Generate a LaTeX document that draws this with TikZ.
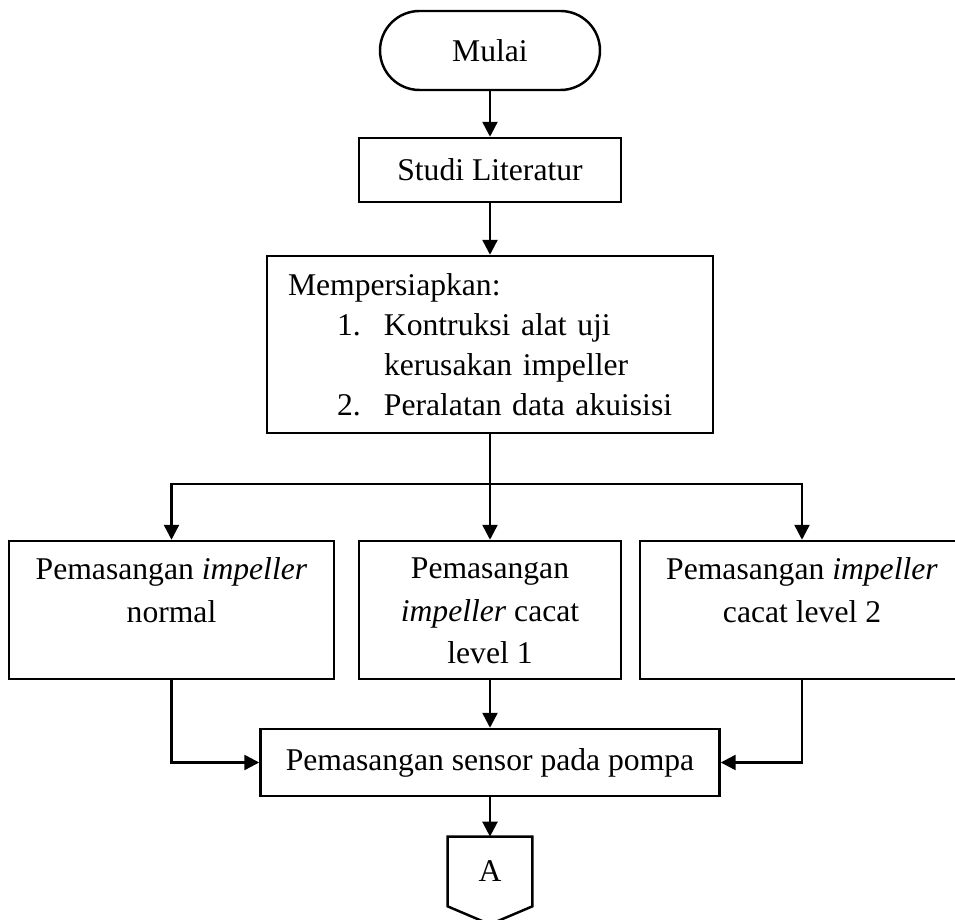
\documentclass[tikz,border=0pt]{standalone}
\usepackage{fontspec}
\setmainfont{Liberation Serif}
\usetikzlibrary{arrows.meta}
\tikzset{garis/.style={line width=1.4pt}}
\tikzset{panah/.style={garis,-{Triangle[length=0.3cm,width=0.3cm]}}}
\tikzset{terminal/.style={draw,garis,rectangle,rounded corners=0.79cm,minimum width=4.4cm,minimum height=1.58cm}}
\tikzset{proses/.style={draw,garis,rectangle}}
\tikzset{cabang/.style={proses,inner xsep=0pt,inner ysep=0.33cm,minimum height=2.76cm}}
\newcommand{\butir}[1]{\hspace*{0.98cm}\makebox[0.94cm][l]{#1}}
\newcommand{\atas}[2]{\parbox[c][2.1cm][t]{#1}{\centering #2}}

\begin{document}
\begin{tikzpicture}[node distance=2.39cm,font=\fontsize{18}{24.4}\selectfont]
\clip (0,0) rectangle (19.1,-18.4);
\node[terminal](mulai) at (9.8,-1.01){Mulai};
\node[proses,minimum width=5.24cm,minimum height=1.28cm](studi)[below of=mulai]{Studi Literatur};
\node[proses,text width=8.08cm,inner xsep=0.42cm,minimum height=3.54cm,align=left,font=\fontsize{18}{22.7}\selectfont,node distance=3.49cm](siap)[below of=studi]{Mempersiapkan:\\ \butir{1.}Kontruksi alat uji\\ \hspace*{1.92cm}kerusakan impeller\\ \butir{2.}Peralatan data akuisisi};
\node[cabang,node distance=5.31cm](tengah)[below of=siap]{\atas{5.24cm}{Pemasangan\\ \textit{impeller} cacat\\ level 1}};
\node[cabang,node distance=6.37cm](kiri)[left of=tengah]{\atas{6.5cm}{Pemasangan \textit{impeller}\\ normal}};
\node[cabang,node distance=6.24cm](kanan)[right of=tengah]{\atas{6.48cm}{Pemasangan \textit{impeller}\\ cacat level 2}};
\node[proses,minimum width=9.18cm,minimum height=1.34cm,node distance=3.05cm](sensor)[below of=tengah]{Pemasangan sensor pada pompa};
\node[minimum width=1.68cm,minimum height=1.38cm,node distance=2.18cm](a)[below of=sensor]{A};
% konektor ke halaman berikutnya
\draw[garis](a.north west) -- (a.north east) -- (a.south east) -- ([yshift=-0.36cm]a.south) -- (a.south west) -- cycle;
\draw[panah](mulai) -- (studi);
\draw[panah](studi) -- (siap);
\draw[panah](siap) -- (tengah);
\draw[panah](siap.south) -- ++(0,-1) -| (kiri.north);
\draw[panah](siap.south) -- ++(0,-1) -| (kanan.north);
\draw[panah](tengah) -- (sensor);
\draw[panah](kiri.south) |- (sensor.west);
\draw[panah](kanan.south) |- (sensor.east);
\draw[panah](sensor) -- (a);
\end{tikzpicture}
\end{document}
